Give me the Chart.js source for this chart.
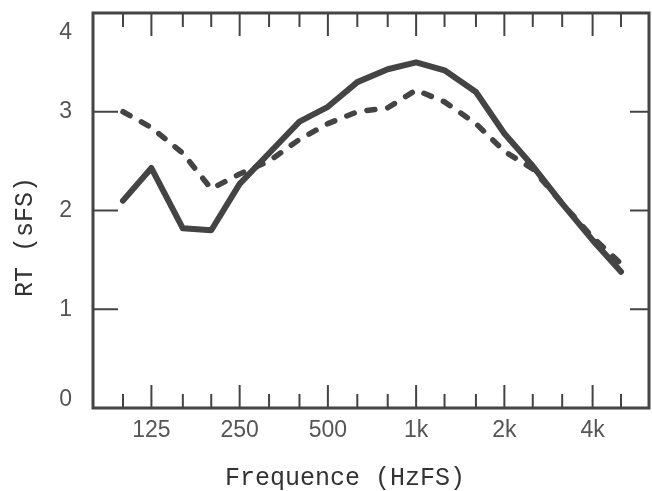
<!DOCTYPE html>
<html>
<head>
<meta charset="utf-8">
<script src="https://cdn.jsdelivr.net/npm/chart.js@4.4.1/dist/chart.umd.min.js"></script>
<style>
  html, body { margin: 0; padding: 0; background: #fff; }
</style>
</head>
<body>
<canvas id="rtGraph" width="652" height="491"></canvas>
<script>
// third-octave bands (Hz)
const bands = [100, 125, 160, 200, 250, 315, 400, 500, 630, 800, 1000, 1250, 1600, 2000, 2500, 3150, 4000, 5000];
// solid curve
const rtSolid = [2.1, 2.43, 1.82, 1.8, 2.27, 2.58, 2.9, 3.05, 3.3, 3.43, 3.5, 3.42, 3.2, 2.78, 2.45, 2.07, 1.7, 1.38];
// dashed curve
const rtDashed = [3.0, 2.84, 2.58, 2.22, 2.37, 2.5, 2.72, 2.88, 3.0, 3.04, 3.22, 3.1, 2.88, 2.6, 2.42, 2.07, 1.73, 1.46];

const majorFreqs = [125, 250, 500, 1000, 2000, 4000];
const majorLabels = ["125", "250", "500", "1k", "2k", "4k"];
const yTicks = [0, 1, 2, 3, 4];

const ink = "#444";

// box + inward ticks, like the original plot
const frameTicks = {
    id: "frameTicks",
    afterDraw(chart) {
        const ctx = chart.ctx;
        const a = chart.chartArea;
        const xs = chart.scales.x;
        const ys = chart.scales.y;
        ctx.save();
        ctx.strokeStyle = ink;
        ctx.lineWidth = 2;
        bands.forEach(f => {
            const px = xs.getPixelForValue(f);
            const len = majorFreqs.includes(f) ? 23 : 14;
            ctx.beginPath();
            ctx.moveTo(px, a.bottom);
            ctx.lineTo(px, a.bottom - len);
            ctx.moveTo(px, a.top);
            ctx.lineTo(px, a.top + len);
            ctx.stroke();
        });
        yTicks.slice(1, -1).forEach(v => {
            const py = ys.getPixelForValue(v);
            ctx.beginPath();
            ctx.moveTo(a.left, py);
            ctx.lineTo(a.left + 25, py);
            ctx.moveTo(a.right, py);
            ctx.lineTo(a.right - 19, py);
            ctx.stroke();
        });
        ctx.lineWidth = 3;
        ctx.strokeRect(a.left, a.top, a.right - a.left, a.bottom - a.top);

        // y labels: end ones sit inside the box in the original
        ctx.fillStyle = "#555";
        ctx.font = "23px 'Liberation Sans', sans-serif";
        ctx.textAlign = "right";
        ctx.textBaseline = "middle";
        yTicks.forEach((v, i) => {
            let py = ys.getPixelForValue(v);
            if (i === 0) py -= 8;
            if (i === yTicks.length - 1) py += 20;
            ctx.fillText(String(v), 72, py);
        });

        // axis titles, typewriter style
        ctx.fillStyle = "#333";
        ctx.font = "25px 'Liberation Mono', monospace";
        ctx.textAlign = "center";
        ctx.textBaseline = "alphabetic";
        ctx.fillText("Frequence (HzFS)", 345, 485);
        ctx.translate(32, 237);
        ctx.rotate(-Math.PI / 2);
        ctx.fillText("RT (sFS)", 0, 0);
        ctx.restore();
    }
};

new Chart(document.getElementById("rtGraph"), {
    type: "line",
    data: {
        datasets: [{
            label: "RT solid",
            data: bands.map((f, i) => ({ x: f, y: rtSolid[i] })),
            borderColor: ink,
            borderWidth: 6,
            borderJoinStyle: "round",
            borderCapStyle: "round",
            pointRadius: 0,
            tension: 0,
            fill: false
        }, {
            label: "RT dashed",
            data: bands.map((f, i) => ({ x: f, y: rtDashed[i] })),
            borderColor: ink,
            borderWidth: 5.5,
            borderDash: [8, 13],
            borderJoinStyle: "round",
            borderCapStyle: "round",
            pointRadius: 0,
            tension: 0,
            fill: false
        }]
    },
    options: {
        responsive: false,
        animation: false,
        layout: { padding: { top: 13, right: 3, left: 0, bottom: 0 } },
        plugins: { legend: { display: false }, tooltip: { enabled: false } },
        scales: {
            x: {
                type: "logarithmic",
                min: 79,
                max: 6230,
                grid: { display: false, drawTicks: false },
                border: { display: false },
                afterBuildTicks: s => { s.ticks = majorFreqs.map(v => ({ value: v })); },
                afterFit: s => { s.height = 83; s.paddingLeft = 0; s.paddingRight = 0; },
                ticks: {
                    autoSkip: false,
                    maxRotation: 0,
                    padding: 11,
                    color: "#555",
                    font: { family: "'Liberation Sans', sans-serif", size: 23, lineHeight: 1 },
                    callback: v => majorLabels[majorFreqs.indexOf(v)] ?? ""
                }
            },
            y: {
                min: 0,
                max: 4,
                grid: { display: false, drawTicks: false },
                border: { display: false },
                // labels drawn by the plugin; keep the box where it was
                afterFit: s => { s.width = 93; s.paddingTop = 0; s.paddingBottom = 0; },
                ticks: { stepSize: 1, display: false }
            }
        }
    },
    plugins: [frameTicks]
});
</script>
</body>
</html>
